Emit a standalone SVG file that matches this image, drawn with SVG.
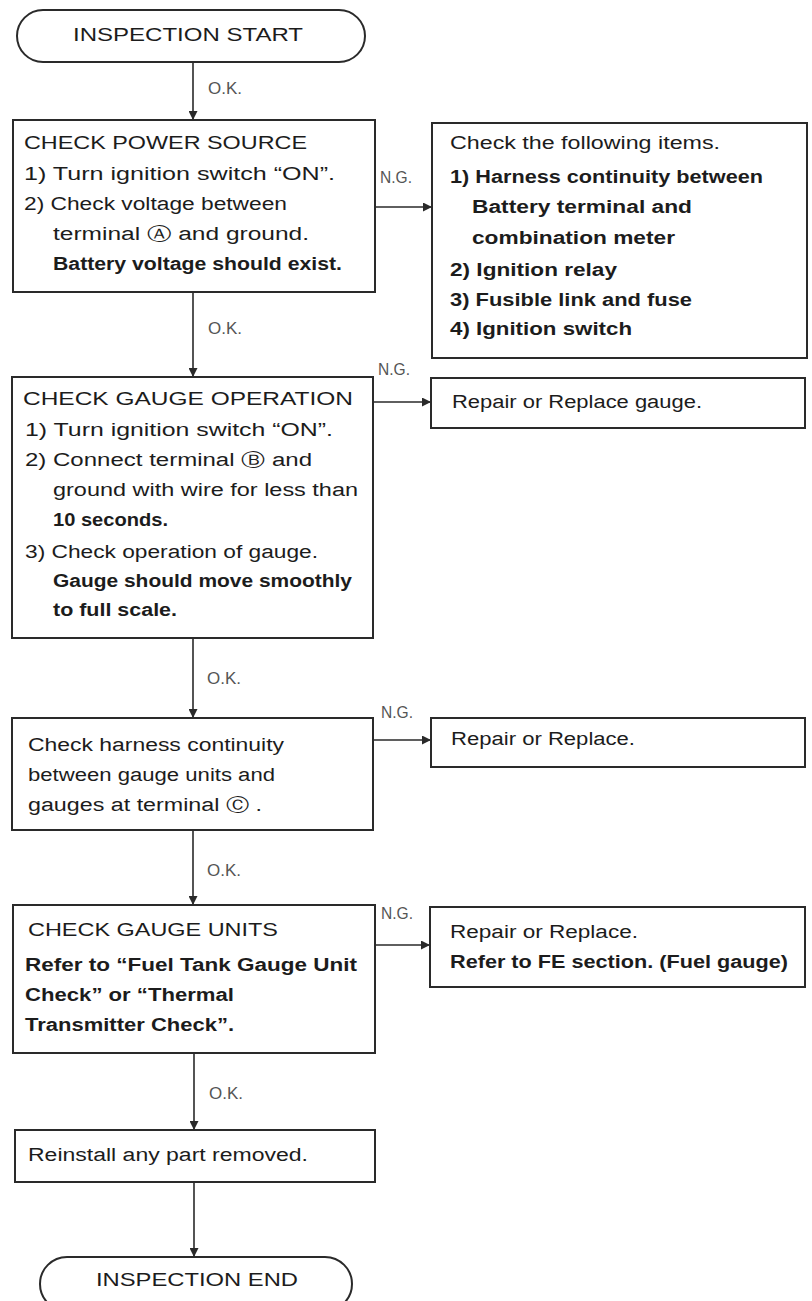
<svg xmlns="http://www.w3.org/2000/svg" width="812" height="1301" viewBox="0 0 812 1301">
<style>
.box{fill:#fff;stroke:#2a2a2a;stroke-width:2}
.t{font-family:"Liberation Sans",Arial,"DejaVu Sans",sans-serif;font-size:18px;fill:#1c1c1c}
.b{font-weight:bold}
.lbl{font-family:"Liberation Sans",Arial,sans-serif;font-size:16px;fill:#555}
.c{fill:none;stroke:#2a2a2a;stroke-width:1.6}
</style>
<defs>
<marker id="ah" viewBox="0 0 10 10" refX="10" refY="5" markerWidth="9" markerHeight="9" markerUnits="userSpaceOnUse" orient="auto">
<path d="M0,0 L10,5 L0,10 z" fill="#2a2a2a"/>
</marker>
</defs>
<rect width="812" height="1301" fill="#fff"/>

<g id="connectors">
<line class="c" x1="193" y1="62" x2="193" y2="120" marker-end="url(#ah)"/>
<line class="c" x1="193" y1="292" x2="193" y2="377" marker-end="url(#ah)"/>
<line class="c" x1="193" y1="638" x2="193" y2="718" marker-end="url(#ah)"/>
<line class="c" x1="193" y1="830" x2="193" y2="905" marker-end="url(#ah)"/>
<line class="c" x1="194" y1="1053" x2="194" y2="1130" marker-end="url(#ah)"/>
<line class="c" x1="194" y1="1182" x2="194" y2="1257" marker-end="url(#ah)"/>
<line class="c" x1="375" y1="207" x2="432" y2="207" marker-end="url(#ah)"/>
<line class="c" x1="373" y1="402" x2="431" y2="402" marker-end="url(#ah)"/>
<line class="c" x1="373" y1="740" x2="431" y2="740" marker-end="url(#ah)"/>
<line class="c" x1="375" y1="945" x2="430" y2="945" marker-end="url(#ah)"/>
<text class="lbl" x="208" y="94" textLength="34" lengthAdjust="spacingAndGlyphs">O.K.</text>
<text class="lbl" x="208" y="334" textLength="34" lengthAdjust="spacingAndGlyphs">O.K.</text>
<text class="lbl" x="207" y="684" textLength="34" lengthAdjust="spacingAndGlyphs">O.K.</text>
<text class="lbl" x="207" y="876" textLength="34" lengthAdjust="spacingAndGlyphs">O.K.</text>
<text class="lbl" x="209" y="1099" textLength="34" lengthAdjust="spacingAndGlyphs">O.K.</text>
<text class="lbl" x="380" y="183" textLength="32" lengthAdjust="spacingAndGlyphs">N.G.</text>
<text class="lbl" x="378" y="375" textLength="32" lengthAdjust="spacingAndGlyphs">N.G.</text>
<text class="lbl" x="381" y="718" textLength="32" lengthAdjust="spacingAndGlyphs">N.G.</text>
<text class="lbl" x="381" y="919" textLength="32" lengthAdjust="spacingAndGlyphs">N.G.</text>
</g>

<g id="start">
<rect class="box" x="17" y="10" width="348" height="52" rx="26"/>
<text class="t" x="73" y="41" textLength="230" lengthAdjust="spacingAndGlyphs">INSPECTION START</text>
</g>

<g id="power-source">
<rect class="box" x="13" y="120" width="362" height="172"/>
<text class="t" x="24" y="149" textLength="283" lengthAdjust="spacingAndGlyphs">CHECK POWER SOURCE</text>
<text class="t" x="24" y="180" textLength="311" lengthAdjust="spacingAndGlyphs">1) Turn ignition switch “ON”.</text>
<text class="t" x="24" y="210" textLength="263" lengthAdjust="spacingAndGlyphs">2) Check voltage between</text>
<text class="t" x="53" y="240" textLength="256" lengthAdjust="spacingAndGlyphs">terminal Ⓐ and ground.</text>
<text class="t b" x="53" y="270" textLength="289" lengthAdjust="spacingAndGlyphs">Battery voltage should exist.</text>
</g>

<g id="check-items">
<rect class="box" x="432" y="123" width="375" height="235"/>
<text class="t" x="450" y="149" textLength="270" lengthAdjust="spacingAndGlyphs">Check the following items.</text>
<text class="t b" x="450" y="183" textLength="313" lengthAdjust="spacingAndGlyphs">1) Harness continuity between</text>
<text class="t b" x="472" y="213" textLength="220" lengthAdjust="spacingAndGlyphs">Battery terminal and</text>
<text class="t b" x="472" y="244" textLength="203" lengthAdjust="spacingAndGlyphs">combination meter</text>
<text class="t b" x="450" y="276" textLength="167" lengthAdjust="spacingAndGlyphs">2) Ignition relay</text>
<text class="t b" x="450" y="306" textLength="242" lengthAdjust="spacingAndGlyphs">3) Fusible link and fuse</text>
<text class="t b" x="450" y="335" textLength="182" lengthAdjust="spacingAndGlyphs">4) Ignition switch</text>
</g>

<g id="gauge-operation">
<rect class="box" x="12" y="377" width="361" height="261"/>
<text class="t" x="23" y="405" textLength="330" lengthAdjust="spacingAndGlyphs">CHECK GAUGE OPERATION</text>
<text class="t" x="25" y="436" textLength="308" lengthAdjust="spacingAndGlyphs">1) Turn ignition switch “ON”.</text>
<text class="t" x="25" y="466" textLength="287" lengthAdjust="spacingAndGlyphs">2) Connect terminal Ⓑ and</text>
<text class="t" x="53" y="496" textLength="305" lengthAdjust="spacingAndGlyphs">ground with wire for less than</text>
<text class="t b" x="53" y="526" textLength="115" lengthAdjust="spacingAndGlyphs">10 seconds.</text>
<text class="t" x="25" y="558" textLength="293" lengthAdjust="spacingAndGlyphs">3) Check operation of gauge.</text>
<text class="t b" x="53" y="587" textLength="299" lengthAdjust="spacingAndGlyphs">Gauge should move smoothly</text>
<text class="t b" x="53" y="616" textLength="124" lengthAdjust="spacingAndGlyphs">to full scale.</text>
</g>

<g id="replace-gauge">
<rect class="box" x="431" y="378" width="374" height="50"/>
<text class="t" x="452" y="408" textLength="250" lengthAdjust="spacingAndGlyphs">Repair or Replace gauge.</text>
</g>

<g id="harness-continuity">
<rect class="box" x="12" y="718" width="361" height="112"/>
<text class="t" x="28" y="751" textLength="256" lengthAdjust="spacingAndGlyphs">Check harness continuity</text>
<text class="t" x="28" y="781" textLength="247" lengthAdjust="spacingAndGlyphs">between gauge units and</text>
<text class="t" x="28" y="811" textLength="234" lengthAdjust="spacingAndGlyphs">gauges at terminal Ⓒ .</text>
</g>

<g id="replace-1">
<rect class="box" x="431" y="718" width="374" height="49"/>
<text class="t" x="451" y="745" textLength="184" lengthAdjust="spacingAndGlyphs">Repair or Replace.</text>
</g>

<g id="gauge-units">
<rect class="box" x="13" y="905" width="362" height="148"/>
<text class="t" x="28" y="936" textLength="250" lengthAdjust="spacingAndGlyphs">CHECK GAUGE UNITS</text>
<text class="t b" x="25" y="971" textLength="332" lengthAdjust="spacingAndGlyphs">Refer to “Fuel Tank Gauge Unit</text>
<text class="t b" x="25" y="1001" textLength="209" lengthAdjust="spacingAndGlyphs">Check” or “Thermal</text>
<text class="t b" x="25" y="1031" textLength="209" lengthAdjust="spacingAndGlyphs">Transmitter Check”.</text>
</g>

<g id="replace-2">
<rect class="box" x="430" y="907" width="375" height="80"/>
<text class="t" x="450" y="938" textLength="188" lengthAdjust="spacingAndGlyphs">Repair or Replace.</text>
<text class="t b" x="450" y="968" textLength="338" lengthAdjust="spacingAndGlyphs">Refer to FE section. (Fuel gauge)</text>
</g>

<g id="reinstall">
<rect class="box" x="15" y="1130" width="360" height="52"/>
<text class="t" x="28" y="1161" textLength="280" lengthAdjust="spacingAndGlyphs">Reinstall any part removed.</text>
</g>

<g id="end">
<rect class="box" x="40" y="1257" width="312" height="54" rx="27"/>
<text class="t" x="96" y="1286" textLength="202" lengthAdjust="spacingAndGlyphs">INSPECTION END</text>
</g>
</svg>
